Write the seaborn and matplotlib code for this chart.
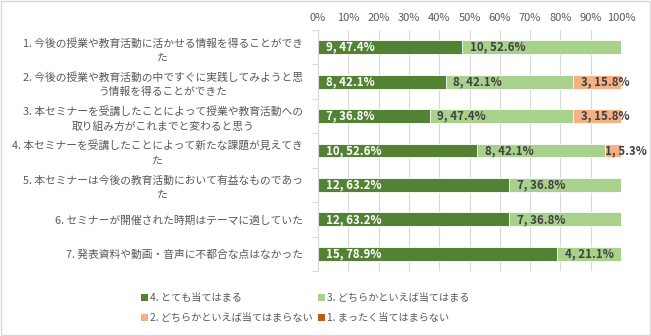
import numpy as np
import pandas as pd
import matplotlib
matplotlib.use("Agg")
import matplotlib.pyplot as plt
from matplotlib.patches import Patch, Rectangle
import seaborn as sns

questions = [
    "1. 今後の授業や教育活動に活かせる情報を得ることができ\nた",
    "2. 今後の授業や教育活動の中ですぐに実践してみようと思\nう情報を得ることができた",
    "3. 本セミナーを受講したことによって授業や教育活動への\n取り組み方がこれまでと変わると思う",
    "4. 本セミナーを受講したことによって新たな課題が見えてき\nた",
    "5. 本セミナーは今後の教育活動において有益なものであっ\nた",
    "6. セミナーが開催された時期はテーマに適していた",
    "7. 発表資料や動画・音声に不都合な点はなかった",
]
series_names = ["4. とても当てはまる", "3. どちらかといえば当てはまる",
                "2. どちらかといえば当てはまらない", "1. まったく当てはまらない"]
counts4 = [9, 8, 7, 10, 12, 12, 15]
pct4 = [47.4, 42.1, 36.8, 52.6, 63.2, 63.2, 78.9]
counts3 = [10, 8, 9, 8, 7, 7, 4]
pct3 = [52.6, 42.1, 47.4, 42.1, 36.8, 36.8, 21.1]
counts2 = [0, 3, 3, 1, 0, 0, 0]
pct2 = [0.0, 15.8, 15.8, 5.3, 0.0, 0.0, 0.0]
counts1 = [0, 0, 0, 0, 0, 0, 0]
pct1 = [0.0, 0.0, 0.0, 0.0, 0.0, 0.0, 0.0]
colors = ["#548235", "#A9D18E", "#F4B183", "#C55A11"]

sns.set_theme(style="white")
plt.rcParams['font.family'] = ['Noto Sans CJK JP', 'DejaVu Sans']

fig = plt.figure(figsize=(6.51, 3.36), dpi=100)
ax = fig.add_axes([318/651, 1-271/336, 303/651, 241/336])

pcts = [pct4, pct3, pct2, pct1]
cnts = [counts4, counts3, counts2, counts1]
cum = np.zeros(len(questions))
cums = []
for p in pcts:
    cum = cum + np.array(p)
    cums.append(cum.copy())
for i in range(3, -1, -1):
    d = pd.DataFrame({"q": questions, "v": cums[i]})
    sns.barplot(data=d, y="q", x="v", orient="h", color=colors[i], ax=ax,
                width=0.4, saturation=1, edgecolor="white", linewidth=0.6)

starts = [np.zeros(7)] + cums[:-1]
for i in range(4):
    for j in range(7):
        if cnts[i][j] > 0:
            c = "white" if i == 0 else "#404040"
            pad = 2.6 if pcts[i][j] > 10 else 0.1
            ax.text(starts[i][j] + pad, j, f"{cnts[i][j]}, {pcts[i][j]:.1f}%",
                    ha="left", va="center", fontsize=8.3, fontweight="bold",
                    color=c)

ax.set_xlim(0, 100)
ax.set_ylim(6.5, -0.5)
ax.set_xticks(np.arange(0, 101, 10))
ax.set_xticklabels([f"{v}%" for v in range(0, 101, 10)])
ax.xaxis.tick_top()
ax.tick_params(axis="x", length=0, labelsize=8, colors="#595959", pad=5)
ax.tick_params(axis="y", length=0, labelsize=7.75, colors="#595959", pad=11)
for lab in ax.get_yticklabels():
    lab.set_multialignment("center")
    lab.set_linespacing(1.5)
ax.set_xlabel("")
ax.set_ylabel("")
ax.grid(axis="x", color="#D9D9D9", linewidth=0.8)
ax.set_axisbelow(True)
for s in ["top", "right", "bottom"]:
    ax.spines[s].set_visible(False)
ax.spines["left"].set_color("#D9D9D9")
ax.spines["left"].set_linewidth(0.8)
ax.set_yticks(np.arange(-0.5, 7, 1), minor=True)
ax.tick_params(axis="y", which="minor", length=4, color="#D9D9D9", width=0.8, left=True)

order = [0, 2, 1, 3]
handles = [Patch(facecolor=colors[i], edgecolor="none") for i in order]
labels = [series_names[i] for i in order]
leg = fig.legend(handles, labels, ncol=2, loc="upper left",
                 bbox_to_anchor=(132/651, 1-284/336), frameon=False,
                 fontsize=7.3, handlelength=0.7, handleheight=0.7,
                 handletextpad=0.2, columnspacing=0.5, labelspacing=1.0)
for t in leg.get_texts():
    t.set_color("#595959")

fig.patches.append(Rectangle((0.001, 0.002), 0.997, 0.995, transform=fig.transFigure,
                             fill=False, edgecolor="#D9D9D9", linewidth=1))
fig.savefig("out.png", dpi=100)
